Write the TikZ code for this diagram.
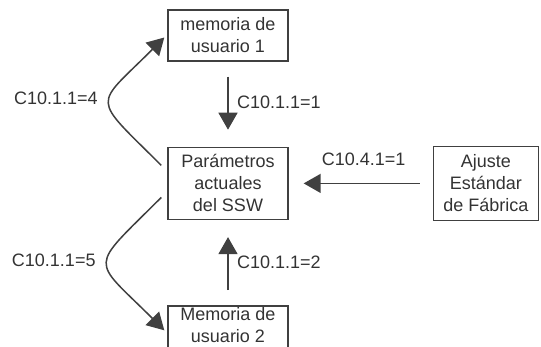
\documentclass[tikz,border=0pt]{standalone}
\usepackage{fontspec}
\setmainfont{Liberation Sans}
\usetikzlibrary{positioning,arrows.meta}
\definecolor{linegray}{HTML}{404040}
\definecolor{textgray}{HTML}{333333}
\begin{document}
\begin{tikzpicture}[
    x=1pt, y=1pt,
    node distance=85pt,
    membox/.style={draw=linegray, line width=1.4pt, inner sep=0pt, minimum width=120pt, minimum height=51pt, align=center, text=textgray, font=\fontsize{18}{22}\selectfont},
    flow/.style={-{Triangle[length=17pt,width=19pt]}, line width=1.5pt, linegray},
    flowlabel/.style={text=textgray, font=\fontsize{18}{22}\selectfont}
]
    \useasboundingbox (0,0) rectangle (541,346);

    % --- BOXES ---
    \node[membox] (mem1) at (228,310.5) {memoria de\\usuario 1};
    \node[membox, below=of mem1, minimum height=72pt] (params) {Parámetros\\actuales\\del SSW};
    \node[membox, below=of params, text depth=12pt] (mem2) {Memoria de\\usuario 2};
    \node[membox, right=144pt of params, minimum width=105pt, minimum height=74pt] (ajuste) {Ajuste\\Estándar\\de Fábrica};

    % --- STRAIGHT ARROWS ---
    \draw[flow, shorten <=15pt, shorten >=17pt] (mem1) -- (params) node[midway, right, flowlabel, xshift=5pt, yshift=2pt] {C10.1.1=1};
    \draw[flow, shorten <=15pt, shorten >=17pt] (mem2) -- (params) node[midway, right, flowlabel, xshift=5pt] {C10.1.1=2};
    \draw[flow, shorten <=13pt, shorten >=15pt] (ajuste) -- (params) node[midway, above, flowlabel, xshift=3pt, yshift=14pt] {C10.4.1=1};

    % --- CURVED ARROWS ---
    \draw[flow] ([xshift=-6pt, yshift=18pt]params.west) to[out=135, in=225, looseness=2]
        node[midway, left, flowlabel, xshift=-8pt, yshift=3pt] {C10.1.1=4} ([xshift=-3pt, yshift=-2pt]mem1.west);
    \draw[flow] ([xshift=-6pt, yshift=-14pt]params.west) to[out=225, in=135, looseness=2]
        node[midway, left, flowlabel, xshift=-8pt, yshift=4pt] {C10.1.1=5} ([xshift=-3pt, yshift=1pt]mem2.west);
\end{tikzpicture}
\end{document}
